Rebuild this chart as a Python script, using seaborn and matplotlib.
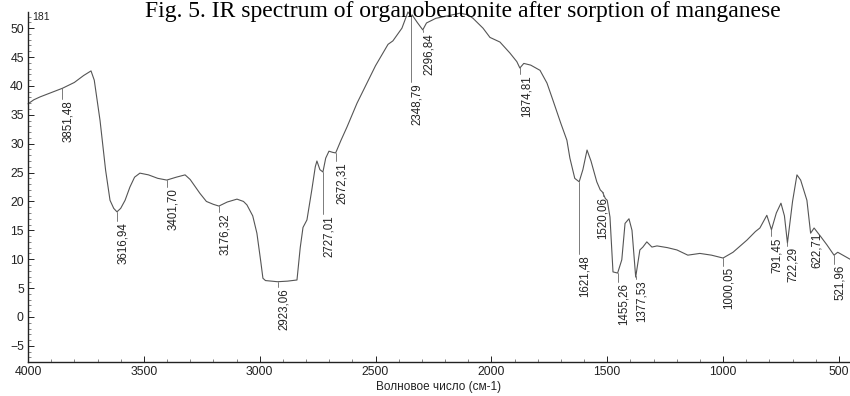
import numpy as np
import pandas as pd
import matplotlib
matplotlib.use("Agg")
import matplotlib.pyplot as plt
import seaborn as sns
from matplotlib.ticker import MultipleLocator

# spectrum (wavenumber, transmittance)
wavenumber = [4000, 3975, 3948, 3851, 3800, 3760, 3728, 3714, 3689, 3665, 3646,
              3630, 3616, 3600, 3581, 3560, 3540, 3517, 3480, 3440, 3401, 3360,
              3322, 3300, 3258, 3230, 3200, 3176, 3140, 3098, 3070, 3055, 3030,
              3012, 2995, 2986, 2975, 2923, 2880, 2839, 2825, 2813, 2796, 2775,
              2760, 2753, 2740, 2727, 2715, 2701, 2685, 2672, 2650, 2623, 2580,
              2537, 2500, 2468, 2446, 2425, 2386, 2373, 2360, 2347, 2342, 2320,
              2296, 2280, 2240, 2192, 2135, 2100, 2079, 2036, 2006, 1963, 1920,
              1890, 1877, 1860, 1830, 1790, 1760, 1734, 1700, 1674, 1661, 1640,
              1621, 1605, 1587, 1570, 1545, 1530, 1520, 1508, 1500, 1488, 1475,
              1455, 1437, 1423, 1406, 1393, 1385, 1377, 1359, 1346, 1329, 1307,
              1285, 1240, 1199, 1152, 1100, 1050, 1000, 957, 897, 860, 841, 811,
              791, 770, 750, 735, 722, 700, 681, 665, 638, 622, 607, 580, 552,
              521, 505, 452]
transmittance = [36.9, 37.6, 38.1, 39.6, 40.6, 41.8, 42.6, 41.0, 34.0, 25.4, 20.2,
                 18.8, 18.2, 18.8, 20.2, 22.5, 24.2, 24.9, 24.6, 24.0, 23.7, 24.2,
                 24.6, 23.8, 21.4, 20.0, 19.5, 19.2, 19.9, 20.4, 20.0, 19.4, 17.5,
                 14.5, 9.5, 6.7, 6.3, 6.1, 6.2, 6.4, 12.0, 15.5, 16.8, 22.0,
                 26.0, 27.0, 25.5, 25.1, 27.5, 28.7, 28.5, 28.4, 30.5, 32.9, 37.0,
                 40.5, 43.5, 45.7, 47.2, 47.8, 50.0, 51.4, 52.8, 52.1, 52.3, 51.0,
                 49.7, 50.9, 51.7, 52.1, 52.6, 52.3, 51.7, 50.0, 48.4, 47.6, 45.7,
                 44.2, 43.1, 43.9, 43.6, 42.7, 40.5, 37.5, 33.5, 30.6, 27.5, 24.0,
                 23.4, 25.5, 28.9, 27.0, 23.4, 22.0, 21.6, 20.5, 20.2, 17.3, 7.8,
                 7.6, 9.9, 16.2, 17.0, 15.0, 11.0, 6.9, 11.6, 12.1, 13.0, 12.1,
                 12.3, 12.0, 11.6, 10.7, 11.0, 10.7, 10.2, 11.2, 13.3, 14.8, 15.4, 17.6,
                 15.1, 18.0, 19.7, 17.5, 12.8, 20.0, 24.6, 23.7, 20.2, 14.5, 15.4, 14.0, 12.5,
                 10.7, 11.2, 10.0]

# peak labels
peak_pos = [3851.48, 3616.94, 3401.70, 3176.32, 2923.06, 2727.01, 2672.31,
            2348.79, 2296.84, 1874.81, 1621.48, 1520.06, 1455.26, 1377.53,
            1000.05, 791.45, 722.29, 622.71, 521.96]
peak_text = ["3851,48", "3616,94", "3401,70", "3176,32", "2923,06", "2727,01",
             "2672,31", "2348,79", "2296,84", "1874,81", "1621,48", "1520,06",
             "1455,26", "1377,53", "1000,05", "791,45", "722,29", "622,71", "521,96"]
label_top = [37.5, 16.4, 22.3, 18.0, 5.0, 17.6, 26.8, 40.5, 49.1, 41.9, 10.7,
             20.8, 5.9, 6.4, 8.7, 13.8, 12.1, 14.5, 9.0]

df = pd.DataFrame({"wn": wavenumber, "T": transmittance})

sns.set_style("ticks")
plt.rcParams["font.family"] = ["Liberation Sans", "DejaVu Sans"]

fig = plt.figure(figsize=(8.5, 3.96), dpi=100)
ax = fig.add_axes([28 / 850, 34 / 396, 1 - 28 / 850, 350 / 396])

sns.lineplot(data=df, x="wn", y="T", ax=ax, color="#555555", linewidth=0.8,
             sort=False, clip_on=False)

wn_sorted = np.array(wavenumber)[::-1]
t_sorted = np.array(transmittance)[::-1]
for pos, txt, top in zip(peak_pos, peak_text, label_top):
    yc = np.interp(pos, wn_sorted, t_sorted)
    ax.plot([pos, pos], [yc, top + 0.2], color="#666666", linewidth=0.6)
    ha = "center" if txt == "1520,06" else "left"
    ax.text(pos, top, txt, rotation=90, ha=ha, va="top", fontsize=8.3,
            color="#222222")

ax.set_xlim(4000, 452)
ax.set_ylim(-7.8, 52.8)
ax.xaxis.set_major_locator(MultipleLocator(500))
ax.xaxis.set_minor_locator(MultipleLocator(100))
ax.yaxis.set_major_locator(MultipleLocator(5))
ax.yaxis.set_minor_locator(MultipleLocator(1))
ax.tick_params(which="major", direction="in", length=4, width=0.7,
               labelsize=8.8, colors="#222222", pad=3)
ax.tick_params(which="minor", direction="in", length=2, width=0.5,
               colors="#555555")
ax.set_xlabel("Волновое число (см-1)", fontsize=8.5, color="#222222", labelpad=2)
ax.set_ylabel("")
for s in ["top", "right"]:
    ax.spines[s].set_visible(False)
for s in ["left", "bottom"]:
    ax.spines[s].set_linewidth(1.0)
    ax.spines[s].set_color("#222222")

fig.text(32 / 850, 1 - 20 / 396, "181", fontsize=7.5, color="#222222")
fig.text(463 / 850, 1 - 16.5 / 396,
         "Fig. 5. IR spectrum of organobentonite after sorption of manganese",
         fontsize=17, family=["Liberation Serif", "DejaVu Serif"],
         ha="center", va="baseline", color="black")

fig.savefig("out.png", dpi=100)
